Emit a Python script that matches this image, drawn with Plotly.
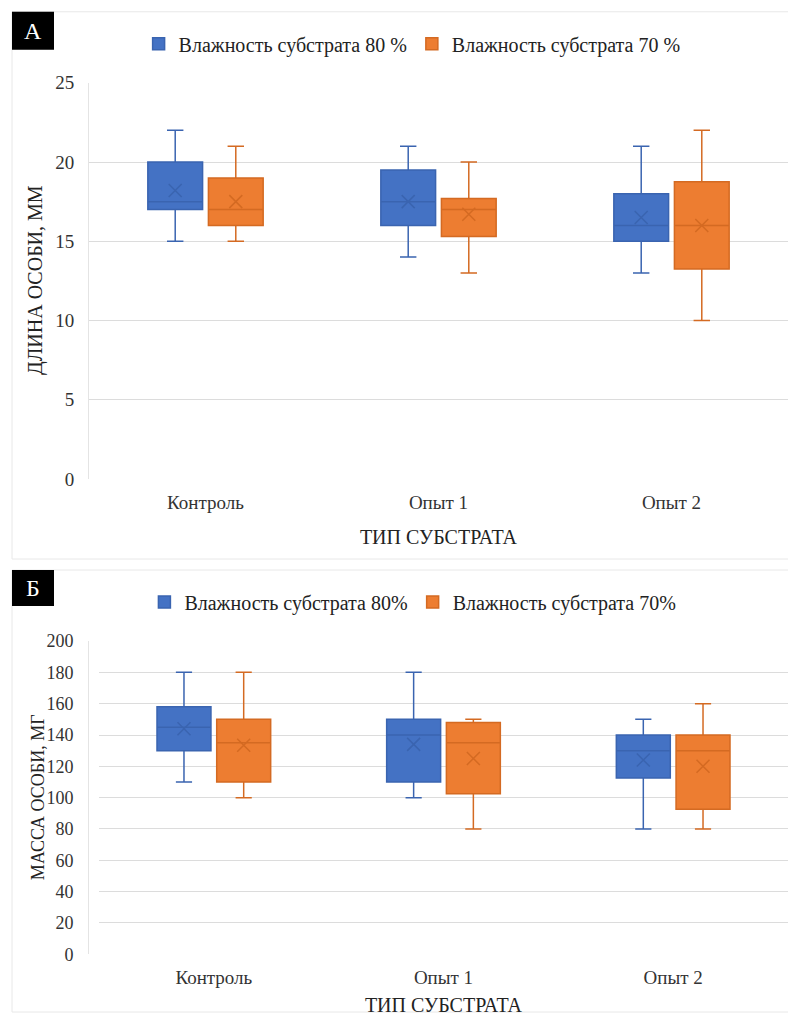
import plotly.graph_objects as go

W, H = 788, 1023

categories = ["Контроль", "Опыт 1", "Опыт 2"]
cat_idx = [0, 1, 2]

# Panel A: length, mm
a80_low = [15, 14, 13]
a80_q1 = [17, 16, 15]
a80_med = [17.5, 17.5, 16]
a80_q3 = [20, 19.5, 18]
a80_high = [22, 21, 21]
a80_mean = [18.2, 17.5, 16.5]

a70_low = [15, 13, 10]
a70_q1 = [16, 15.3, 13.25]
a70_med = [17, 17, 16]
a70_q3 = [19, 17.7, 18.75]
a70_high = [21, 20, 22]
a70_mean = [17.5, 16.7, 16.0]

# Panel B: mass, mg
b80_low = [110, 100, 80]
b80_q1 = [130, 110, 112.5]
b80_med = [145, 140, 130]
b80_q3 = [158, 150, 140]
b80_high = [180, 180, 150]
b80_mean = [144, 134, 124]

b70_low = [100, 80, 80]
b70_q1 = [110, 102.5, 92.5]
b70_med = [135, 135, 130]
b70_q3 = [150, 148, 140]
b70_high = [180, 150, 160]
b70_mean = [133.5, 125, 120]

BLUE = "#4472C4"
BLUE_D = "#3A64B0"
ORANGE = "#ED7D31"
ORANGE_D = "#D46A22"
FONT = "Liberation Serif"

OFF = 0.13
BW = 0.235

fig = go.Figure()


def add_series(name, low, q1, med, q3, high, mean, fill, line, xa, ya, sign, legend):
    xs = [i + sign * OFF for i in cat_idx]
    fig.add_trace(go.Box(
        name=name, x=xs, lowerfence=low, q1=q1, median=med, q3=q3, upperfence=high,
        width=BW, whiskerwidth=0.3, fillcolor=fill, line=dict(color=line, width=1.5),
        xaxis=xa, yaxis=ya, legend=legend, boxpoints=False, hoverinfo="y",
    ))
    fig.add_trace(go.Scatter(
        x=xs, y=mean, mode="markers", showlegend=False, xaxis=xa, yaxis=ya,
        marker=dict(symbol="x-thin-open", size=13, color=line, line=dict(color=line, width=1.5)),
    ))


add_series("Влажность субстрата 80 %", a80_low, a80_q1, a80_med, a80_q3, a80_high, a80_mean,
           BLUE, BLUE_D, "x", "y", -1, "legend")
add_series("Влажность субстрата 70 %", a70_low, a70_q1, a70_med, a70_q3, a70_high, a70_mean,
           ORANGE, ORANGE_D, "x", "y", 1, "legend")
add_series("Влажность субстрата 80%", b80_low, b80_q1, b80_med, b80_q3, b80_high, b80_mean,
           BLUE, BLUE_D, "x2", "y2", -1, "legend2")
add_series("Влажность субстрата 70%", b70_low, b70_q1, b70_med, b70_q3, b70_high, b70_mean,
           ORANGE, ORANGE_D, "x2", "y2", 1, "legend2")


def px_x(p):
    return p / W


def px_y(p):
    # map a target pixel row to page coordinates (small vertical calibration)
    q = (p - 10.25) / 0.979
    q = min(max(q, 0), H)
    return 1 - q / H


tickfont = dict(family=FONT, size=19, color="#333333")
tickfont_b = dict(family=FONT, size=18, color="#333333")
titlefont = dict(family=FONT, size=20, color="#222222")
titlefont_b = dict(family=FONT, size=18, color="#222222")
grid = "#DCDCDC"


def xaxis_cfg(domain_left, anchor, standoff):
    return dict(domain=[domain_left, 1.0], anchor=anchor, tickvals=cat_idx, ticktext=categories,
                range=[-0.5, 2.5], showgrid=False, zeroline=False, showline=False, ticks="",
                tickfont=tickfont, ticklabelstandoff=10,
                title=dict(text="ТИП СУБСТРАТА", font=titlefont, standoff=standoff))


fig.update_layout(
    width=W, height=H, margin=dict(l=0, r=0, t=0, b=0),
    paper_bgcolor="white", plot_bgcolor="white",
    boxmode="overlay",
    font=dict(family=FONT),
    xaxis=xaxis_cfg(px_x(89), "y", 18),
    yaxis=dict(domain=[px_y(479), px_y(83)], range=[0, 25], dtick=5, gridcolor=grid,
               gridwidth=1, zeroline=False, showline=True, linecolor="#E4E4E4",
               ticks="", tickfont=tickfont, ticklabelstandoff=10),
    xaxis2=xaxis_cfg(px_x(99), "y2", 10),
    yaxis2=dict(domain=[px_y(954), px_y(641)], range=[0, 200], dtick=20, gridcolor=grid,
                gridwidth=1, zeroline=False, showline=True, linecolor="#E4E4E4",
                ticks="", tickfont=tickfont_b, ticklabelstandoff=11),
    legend=dict(orientation="h", x=0.523, xanchor="center", y=px_y(44), yanchor="middle",
                font=dict(family=FONT, size=20, color="#222222"), itemwidth=30,
                bgcolor="rgba(0,0,0,0)"),
    legend2=dict(orientation="h", x=0.524, xanchor="center", y=px_y(602), yanchor="middle",
                 font=dict(family=FONT, size=20, color="#222222"), itemwidth=30,
                 bgcolor="rgba(0,0,0,0)"),
    showlegend=True,
)

shapes = [
    # panel borders
    dict(type="rect", xref="paper", yref="paper", x0=px_x(12), x1=px_x(789), y0=px_y(559), y1=px_y(12),
         line=dict(color="#E8E8E8", width=1), fillcolor="rgba(0,0,0,0)", layer="below"),
    dict(type="rect", xref="paper", yref="paper", x0=px_x(12), x1=px_x(789), y0=px_y(1040), y1=px_y(570),
         line=dict(color="#E8E8E8", width=1), fillcolor="rgba(0,0,0,0)", layer="below"),
    # label boxes
    dict(type="rect", xref="paper", yref="paper", x0=px_x(12), x1=px_x(54), y0=px_y(50), y1=px_y(12),
         line=dict(width=0), fillcolor="black", layer="below"),
    dict(type="rect", xref="paper", yref="paper", x0=px_x(12), x1=px_x(54), y0=px_y(606), y1=px_y(570),
         line=dict(width=0), fillcolor="black", layer="below"),
]
fig.update_layout(shapes=shapes)

fig.add_annotation(text="А", xref="paper", yref="paper", x=px_x(33), y=px_y(31), showarrow=False,
                   xanchor="center", yanchor="middle",
                   font=dict(family=FONT, size=24, color="white"))
fig.add_annotation(text="Б", xref="paper", yref="paper", x=px_x(33), y=px_y(588), showarrow=False,
                   xanchor="center", yanchor="middle",
                   font=dict(family=FONT, size=24, color="white"))
fig.add_annotation(text="ДЛИНА ОСОБИ, ММ", xref="paper", yref="paper", x=px_x(36), y=px_y(280),
                   textangle=-90, showarrow=False, xanchor="center", yanchor="middle",
                   font=titlefont)
fig.add_annotation(text="МАССА ОСОБИ, МГ", xref="paper", yref="paper", x=px_x(38), y=px_y(797),
                   textangle=-90, showarrow=False, xanchor="center", yanchor="middle",
                   font=titlefont_b)

css_fix = (
    "document.documentElement.style.margin='0';document.documentElement.style.padding='0';"
    "document.documentElement.style.overflow='hidden';"
    "document.body.style.margin='0';document.body.style.padding='0';"
    "document.body.style.overflow='hidden';"
)
fig.write_html("out.html", config={"displayModeBar": False}, post_script=css_fix)
